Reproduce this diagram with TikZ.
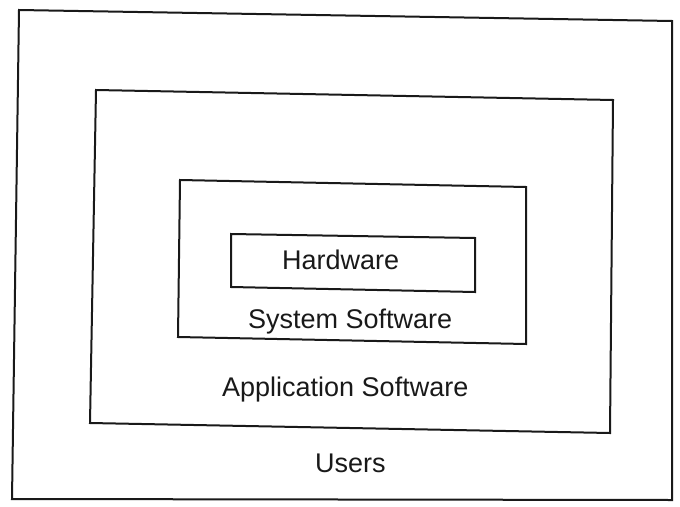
\documentclass[tikz,border=0pt]{standalone}
\usepackage{fontspec}
\setmainfont{Liberation Sans}
\begin{document}
\begin{tikzpicture}[x=1pt,y=-1pt,
  layer/.style={draw=black!90,line width=2pt,line join=miter},
  lbl/.style={anchor=base west,inner sep=0pt,font=\fontsize{27}{32}\selectfont,text=black!90}]
\useasboundingbox (0,0) rectangle (680,506);
% outer: Users
\draw[layer] (19,10) -- (672,21) -- (672,500) -- (12,499) -- cycle;
% Application Software
\draw[layer] (96,90) -- (613,100) -- (610,433) -- (90,423) -- cycle;
% System Software
\draw[layer] (180,180) -- (526,187) -- (526,344) -- (178,337) -- cycle;
% Hardware
\draw[layer] (231,234) -- (475,238) -- (475,292) -- (231,287) -- cycle;
\node[lbl] (hw) at (282,269) {Hardware};
\node[lbl] (ss) at (248,328) {System Software};
\node[lbl] (as) at (222,396) {Application Software};
\node[lbl] (us) at (315,472) {Users};
\end{tikzpicture}
\end{document}
